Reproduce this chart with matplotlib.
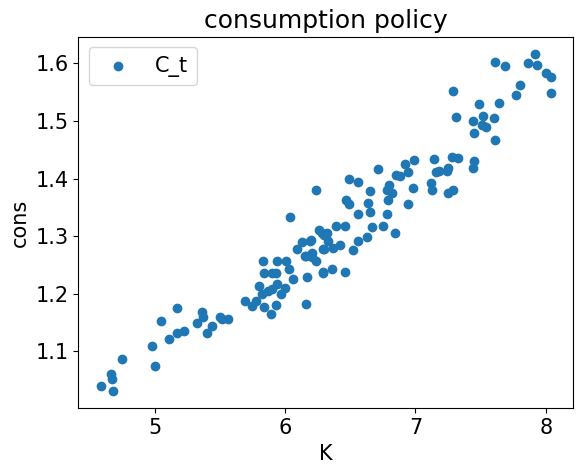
import matplotlib
matplotlib.use("Agg")
import matplotlib.pyplot as plt

K = [4.586,4.663,4.67,4.68,4.747,4.977,5.0,5.046,5.169,5.107,5.169,5.222,5.322,5.368,5.36,5.398,5.437,5.498,5.513,5.559,5.69,
     5.75,5.78,5.80,5.83,5.84,5.84,5.89,5.93,5.90,5.93,5.94,5.82,5.87,5.90,5.94,5.97,6.00,6.01,6.03,6.06,6.04,6.17,6.16,6.24,6.13,6.19,6.09,6.16,6.21,6.24,6.28,6.30,6.29,6.30,
     6.49,6.56,6.71,6.47,6.49,6.56,6.64,6.65,6.65,6.78,6.75,6.67,6.84,6.63,6.56,6.52,6.46,6.39,6.42,6.36,6.29,6.46,6.26,6.32,6.33,6.29,6.37,6.21,6.15,6.20,
     6.80,6.82,6.78,6.79,6.85,6.88,6.92,6.94,6.99,6.98,6.94,7.14,7.12,7.13,7.16,7.18,7.24,7.25,7.28,7.33,7.25,7.29,7.45,7.44,
     7.29,7.31,7.44,7.45,7.49,7.52,7.54,7.51,7.60,7.64,7.61,7.61,7.69,7.77,7.80,7.86,7.92,7.93,8.00,8.04,8.04]
cons = [1.039,1.060,1.051,1.030,1.086,1.109,1.074,1.152,1.175,1.121,1.131,1.135,1.149,1.159,1.168,1.131,1.144,1.159,1.156,1.156,1.187,
        1.178,1.187,1.214,1.257,1.235,1.177,1.165,1.180,1.236,1.236,1.257,1.200,1.205,1.208,1.217,1.200,1.210,1.257,1.243,1.226,1.333,1.228,1.182,1.380,1.289,1.292,1.277,1.266,1.263,1.257,1.306,1.301,1.236,1.278,
        1.399,1.394,1.416,1.362,1.355,1.339,1.357,1.341,1.378,1.338,1.318,1.315,1.306,1.298,1.292,1.275,1.318,1.317,1.285,1.243,1.238,1.238,1.310,1.305,1.292,1.278,1.280,1.270,1.266,1.294,
        1.388,1.375,1.380,1.362,1.406,1.404,1.425,1.411,1.432,1.383,1.355,1.434,1.392,1.380,1.411,1.413,1.413,1.418,1.437,1.435,1.375,1.380,1.430,1.418,
        1.553,1.507,1.500,1.479,1.530,1.509,1.490,1.493,1.506,1.532,1.467,1.602,1.595,1.546,1.562,1.600,1.617,1.598,1.583,1.577,1.548]

plt.rcParams['font.size'] = 15
fig = plt.figure(figsize=(5.84, 4.72), dpi=100)
ax = fig.add_axes([0.134, 0.135, 0.848, 0.787])
ax.scatter(K, cons, label="C_t")
ax.set_xlabel("K")
ax.set_ylabel("cons")
ax.set_title("consumption policy")
ax.set_xticks([5, 6, 7, 8])
ax.set_yticks([1.1, 1.2, 1.3, 1.4, 1.5, 1.6])
ax.legend(loc="upper left")
fig.savefig("out.png")
